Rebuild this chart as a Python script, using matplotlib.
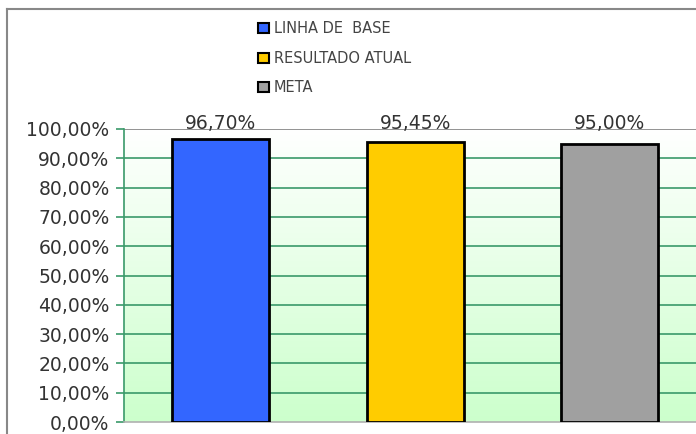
import matplotlib
matplotlib.use("Agg")
import matplotlib.pyplot as plt
import numpy as np
from matplotlib.patches import Rectangle
from matplotlib.lines import Line2D
from matplotlib.colors import LinearSegmentedColormap

categories = ["LINHA DE  BASE", "RESULTADO ATUAL", "META"]
values = [96.70, 95.45, 95.00]
colors = ["#3366FF", "#FFCC00", "#A0A0A0"]
yticks = [0, 10, 20, 30, 40, 50, 60, 70, 80, 90, 100]

def fmt(v):
    return f"{v:.2f}".replace(".", ",") + "%"

W, H = 696, 434
fig = plt.figure(figsize=(W / 100, H / 100), dpi=100)
fig.patch.set_facecolor("white")

# outer border lines (top and left)
fig.add_artist(Line2D([7 / W, 1], [1 - 9 / H, 1 - 9 / H], color="#888888", lw=1.5))
fig.add_artist(Line2D([7 / W, 7 / W], [0, 1 - 9 / H], color="#888888", lw=1.5))

left, right, top, bottom = 123.5, 696, 129, 422
ax = fig.add_axes([left / W, 1 - bottom / H, (right - left) / W, (bottom - top) / H])

xmax = (right - left) / 194.5 - 0.5
ax.set_xlim(-0.5, xmax)
ax.set_ylim(0, 100)

# gradient background
grad = np.linspace(0, 1, 256).reshape(-1, 1)
cmap = LinearSegmentedColormap.from_list("g", ["#CCFFCC", "#FFFFFF"])
ax.imshow(grad, aspect="auto", cmap=cmap, origin="lower",
          extent=[-0.5, xmax, 0, 100], zorder=0)

for y in yticks[1:-1]:
    ax.axhline(y, color="#3A9A6A", lw=1.2, zorder=1)
ax.axhline(100, color="#808080", lw=1.2, zorder=1)

x = np.arange(len(categories))
ax.bar(x, values, width=0.5, color=colors, edgecolor="black",
       linewidth=2, zorder=3)
for xi, v in zip(x, values):
    ax.text(xi, 100.0, fmt(v), ha="center", va="baseline", fontsize=13.5,
            color="#333333", zorder=5, clip_on=False)

ax.set_yticks(yticks)
ax.set_yticklabels([fmt(t) for t in yticks], fontsize=13.5, color="#333333")
ax.tick_params(axis="y", direction="out", length=6, color="#3A9A6A", width=1.2, pad=4)
ax.set_xticks([])
for s in ["top", "right"]:
    ax.spines[s].set_visible(False)
ax.spines["left"].set_color("#3A9A6A")
ax.spines["left"].set_linewidth(1.2)
ax.spines["bottom"].set_color("#B0B0B0")
ax.spines["bottom"].set_linewidth(1.2)

# legend
handles = [Rectangle((0, 0), 1, 1, facecolor=c, edgecolor="black", linewidth=1.5) for c in colors]
fig.legend(handles, categories, loc="upper left",
           bbox_to_anchor=(251 / W, 1 - 14 / H), frameon=False,
           fontsize=10.5, handlelength=0.7, handleheight=0.7,
           handletextpad=0.35, labelspacing=1.0, borderpad=0,
           labelcolor="#444444")

fig.savefig("out.png", dpi=100)
